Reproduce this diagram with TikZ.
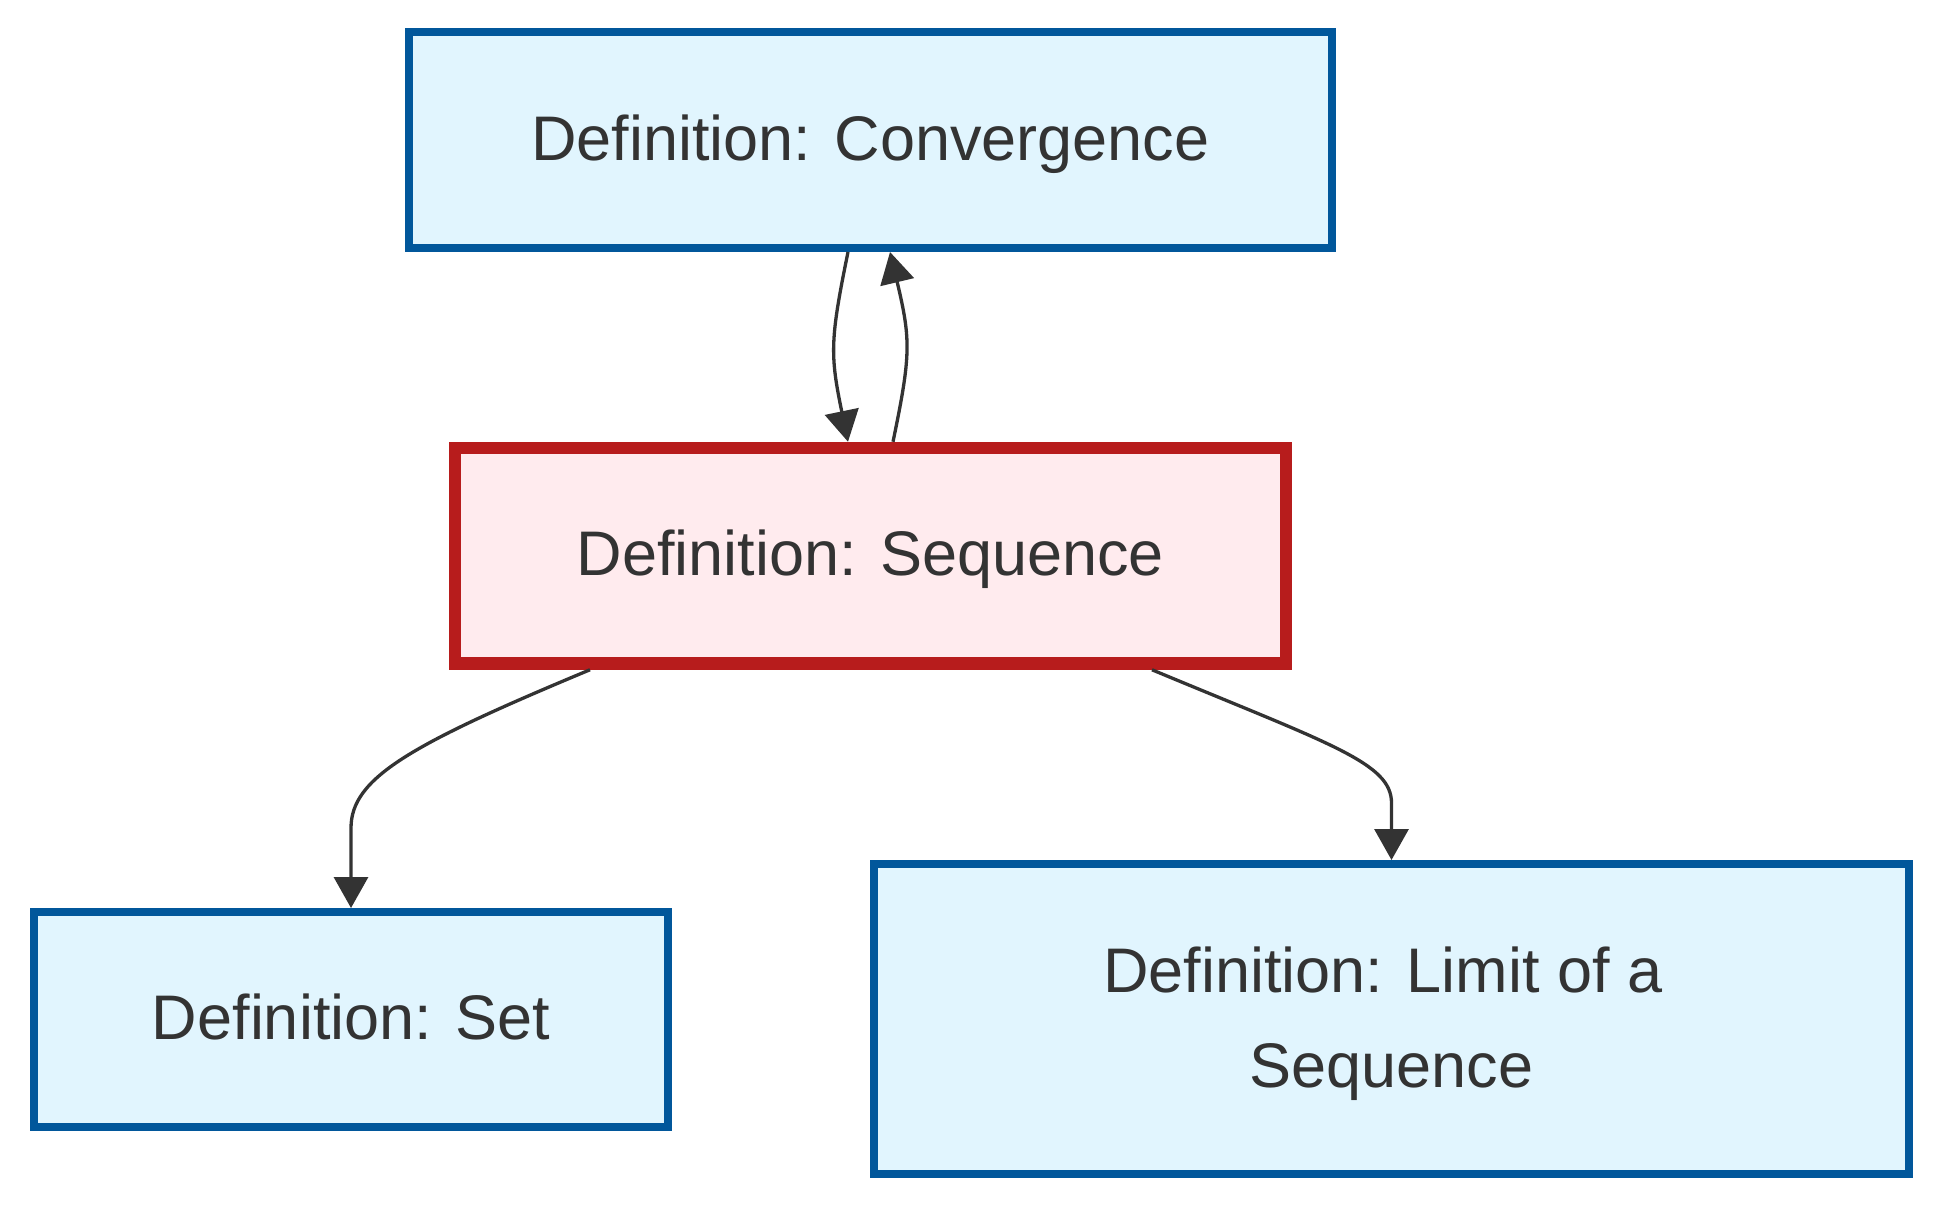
\documentclass[tikz,border=0pt]{standalone}
\usepackage{fontspec}
\setmainfont{Liberation Sans}
\usetikzlibrary{arrows.meta,calc}
\definecolor{bluefill}{HTML}{E1F5FE}
\definecolor{blueline}{HTML}{01579B}
\definecolor{redfill}{HTML}{FFEBEE}
\definecolor{redline}{HTML}{B71C1C}
\definecolor{edgecol}{HTML}{333333}
\begin{document}
\begin{tikzpicture}[x=1pt,y=-1pt,
  defbox/.style={draw=blueline, fill=bluefill, line width=8pt, inner sep=0pt,
    text=edgecol, font=\fontsize{63}{95}\selectfont, align=center,
    text height=55pt, text depth=15pt},
  focusbox/.style={defbox, draw=redline, fill=redfill, line width=12.5pt},
  link/.style={draw=edgecol, line width=3.3pt, -{Triangle[length=31pt,width=34pt]}}]
\useasboundingbox (0,0) rectangle (1940,1208);
\node[defbox, minimum width=923pt, minimum height=216pt] (conv) at (870.5,140) {Definition: Convergence};
\node[focusbox, minimum width=831pt, minimum height=215.5pt] (seq) at (870.5,555.75) {Definition: Sequence};
\node[defbox, minimum width=634pt, minimum height=215pt] (set) at (351,1019.5) {Definition: Set};
\node[defbox, minimum width=1035pt, minimum height=310pt, text height=150pt, text depth=14pt] (limit) at (1391.5,1019) {Definition: Limit of a\hspace*{17.5pt}\\Sequence};
\draw[link] ([xshift=-22.5pt]conv.south) .. controls +(-18,88) and +(-18,-87) .. ([xshift=-22.5pt]seq.north);
\draw[link] ([xshift=22.5pt]seq.north) .. controls +(18,-87) and +(21,88) .. ([xshift=19.5pt]conv.south);
\draw[link] ([xshift=-280.5pt]seq.south) .. controls +(-180,75) and +(0,-50) .. ($(set.north)+(0,-80)$) -- (set.north);
\draw[link] ([xshift=281.5pt]seq.south) .. controls +(180,75) and +(0,-40) .. ($(limit.north)+(0,-57)$) -- (limit.north);
\end{tikzpicture}
\end{document}
